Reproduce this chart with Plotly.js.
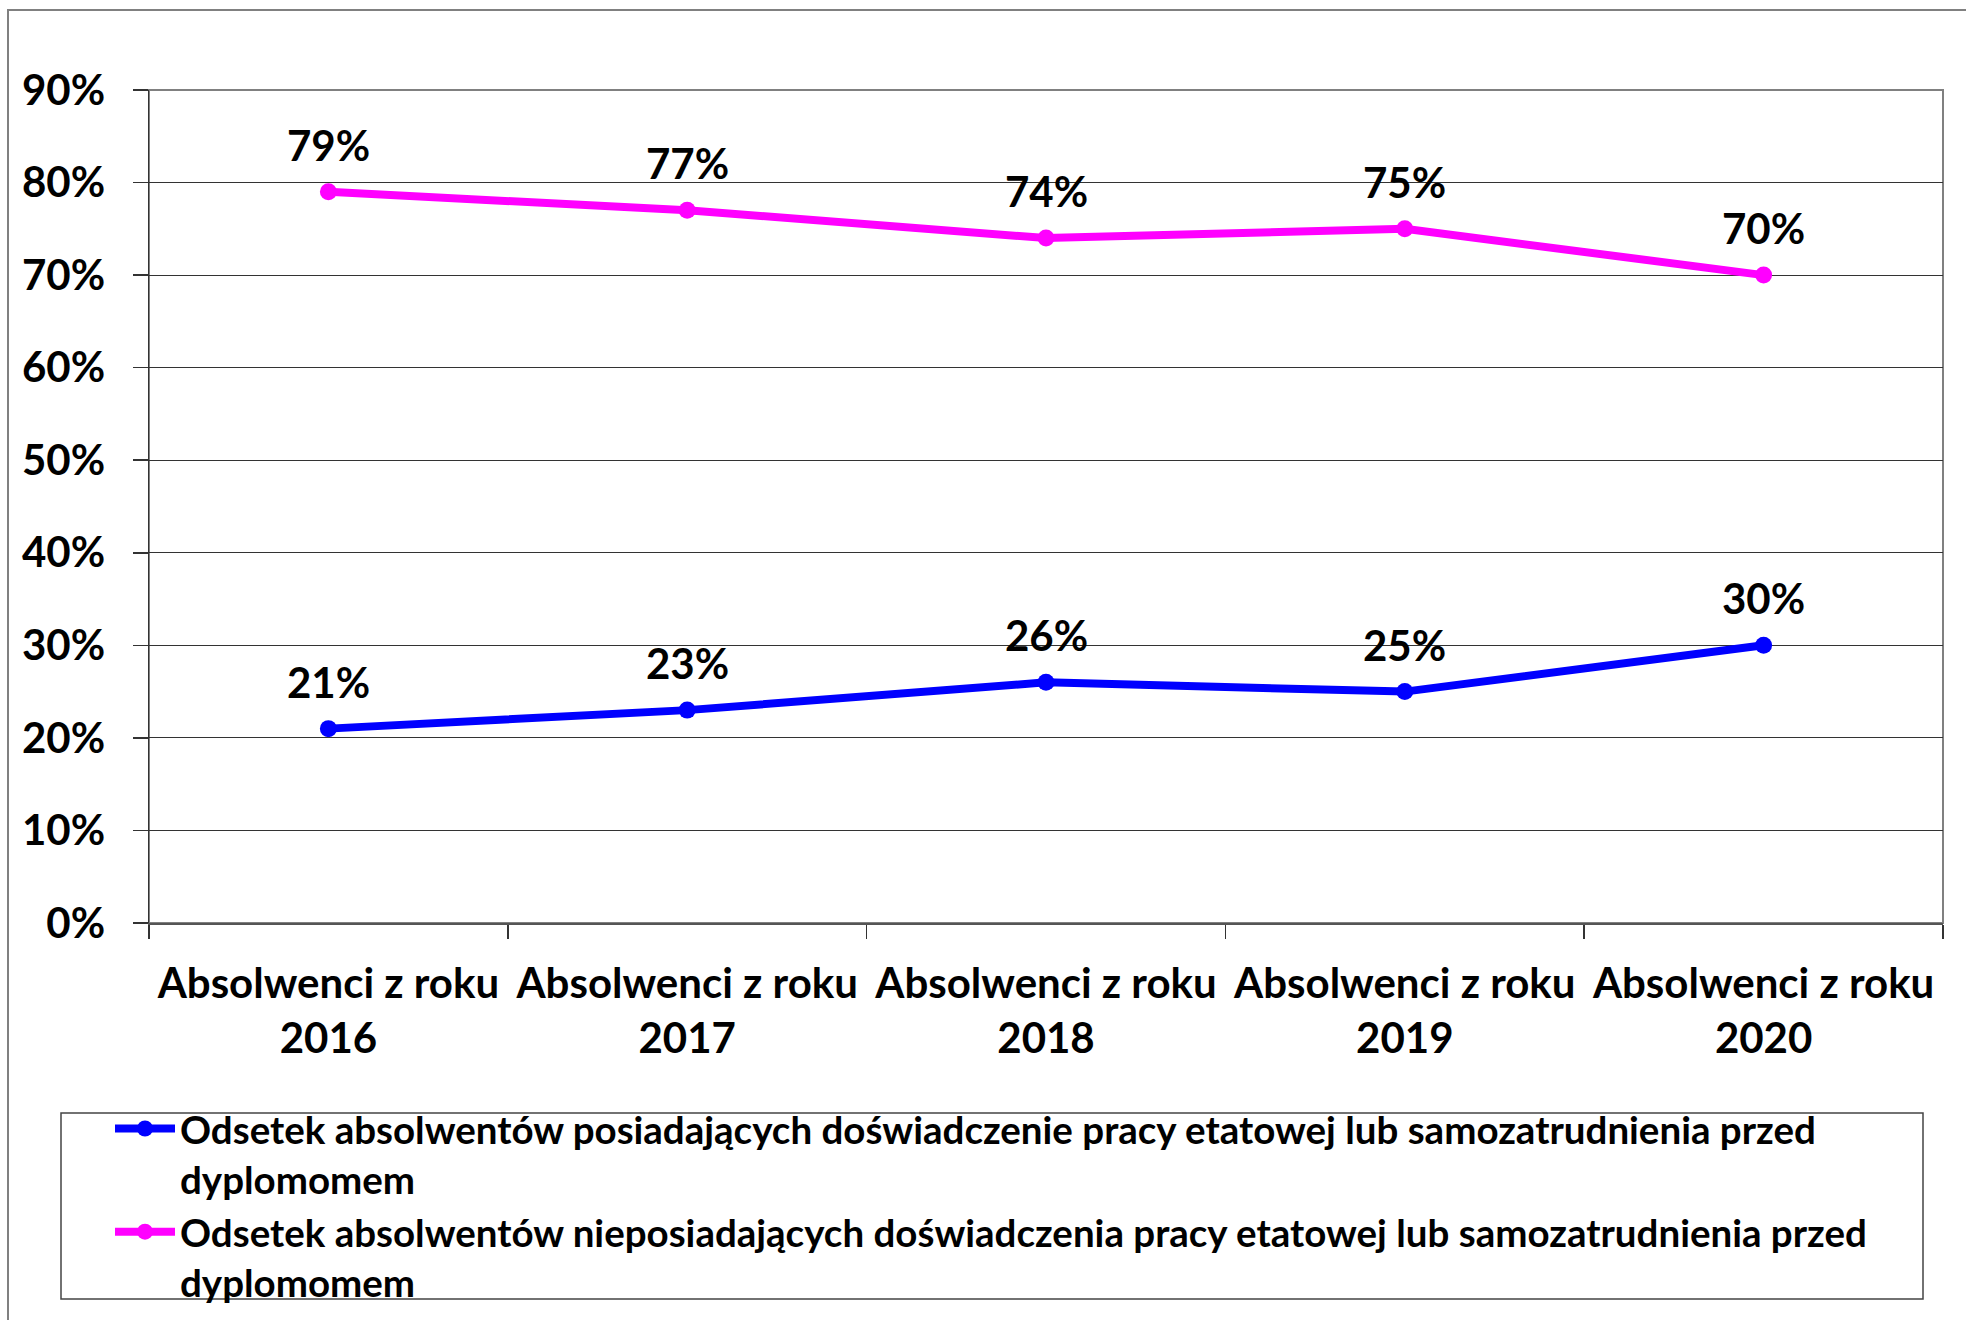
<!DOCTYPE html>
<html>
<head>
<meta charset="utf-8">
<script src="https://cdn.plot.ly/plotly-3.0.1.min.js"></script>
<style>html,body{margin:0;padding:0;background:#fff;}</style>
</head>
<body>
<div id="chart" style="width:1966px;height:1320px;"></div>
<script>
var categories = [
  "Absolwenci z roku<br>2016",
  "Absolwenci z roku<br>2017",
  "Absolwenci z roku<br>2018",
  "Absolwenci z roku<br>2019",
  "Absolwenci z roku<br>2020"
];
var withExperience = [0.21, 0.23, 0.26, 0.25, 0.30];
var withoutExperience = [0.79, 0.77, 0.74, 0.75, 0.70];
var seriesNames = [
  "Odsetek absolwentów posiadających doświadczenie pracy etatowej lub samozatrudnienia przed<br>dyplomomem",
  "Odsetek absolwentów nieposiadających doświadczenia pracy etatowej lub samozatrudnienia przed<br>dyplomomem"
];
var seriesColors = ["#0000FF", "#FF00FF"];

var F = {family: "Lato, 'Open Sans', sans-serif", size: 42, color: "#000", weight: "bold"};
var FL = {family: "Lato, 'Open Sans', sans-serif", size: 38.5, color: "#000", weight: "bold"};

var seriesValues = [withExperience, withoutExperience];
var traces = seriesValues.map(function (vals, i) {
  return {
    x: categories, y: vals, name: seriesNames[i],
    type: "scatter", mode: "lines+markers",
    line: {color: seriesColors[i], width: 8},
    marker: {color: seriesColors[i], size: 17},
    cliponaxis: false, hoverinfo: "skip"
  };
});

var annotations = [];
seriesValues.forEach(function (vals) {
  vals.forEach(function (v, j) {
    annotations.push({
      x: categories[j], y: v, xref: "x", yref: "y",
      text: Math.round(v * 100) + "%",
      showarrow: false, xanchor: "center", yanchor: "middle",
      yshift: 47, font: F
    });
  });
});

var L = 149, R = 1943, T = 90, B = 923;
var pw = R - L, ph = B - T;
function px(x) { return (x - L) / pw; }
function py(y) { return (B - y) / ph; }

var layout = {
  width: 1966, height: 1320,
  margin: {l: L, r: 1966 - R, t: T, b: 1320 - B, autoexpand: false},
  paper_bgcolor: "#fff", plot_bgcolor: "#fff",
  font: F,
  showlegend: true,
  xaxis: {
    type: "category",
    range: [-0.5, 4.5],
    showgrid: false, zeroline: false,
    showline: true, linecolor: "#555", linewidth: 2,
    ticks: "outside", ticklen: 14, tickcolor: "#333", tickwidth: 1.5,
    tickson: "boundaries",
    tickfont: F,
    ticklabelstandoff: 23,
    fixedrange: true
  },
  yaxis: {
    range: [0, 0.9], dtick: 0.1, tick0: 0,
    tickformat: ".0%",
    showgrid: true, gridcolor: "#333", gridwidth: 1,
    zeroline: false,
    showline: true, linecolor: "#333", linewidth: 1.5,
    ticks: "outside", ticklen: 15, tickcolor: "#333", tickwidth: 1.5,
    tickfont: F,
    ticklabelstandoff: 19,
    fixedrange: true
  },
  legend: {
    x: px(110), y: py(1097), xanchor: "left", yanchor: "top",
    orientation: "v", valign: "top",
    bgcolor: "rgba(0,0,0,0)", borderwidth: 0,
    font: FL, itemwidth: 60, tracegroupgap: 0
  },
  annotations: annotations,
  shapes: [
    {type: "rect", xref: "paper", yref: "paper", x0: 0, x1: 1, y0: 0, y1: 1,
     line: {color: "#808080", width: 2}, layer: "below"},
    {type: "rect", xref: "paper", yref: "paper",
     x0: px(8), x1: px(2000), y0: py(10), y1: py(1400),
     line: {color: "#808080", width: 2}},
    {type: "rect", xref: "paper", yref: "paper",
     x0: px(61), x1: px(1923), y0: py(1113), y1: py(1299),
     line: {color: "#444", width: 1.5}}
  ]
};

Plotly.newPlot("chart", traces, layout, {displayModeBar: false, staticPlot: true});
</script>
</body>
</html>
